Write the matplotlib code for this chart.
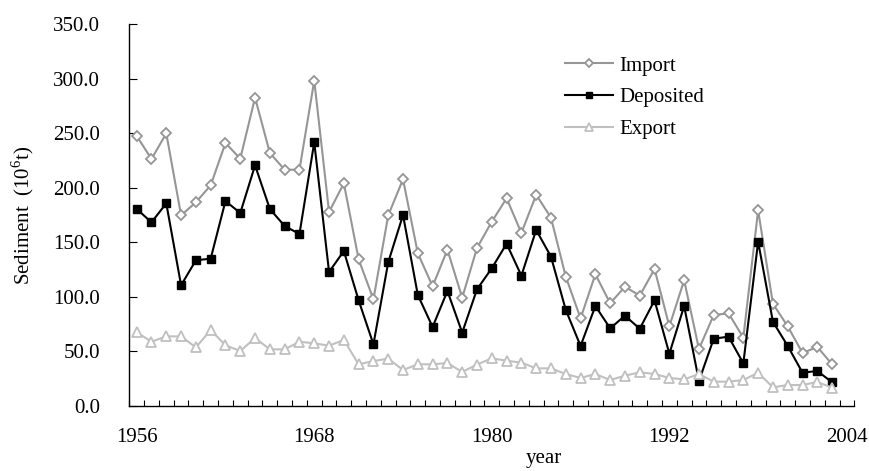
import numpy as np
import matplotlib
matplotlib.use("Agg")
import matplotlib.pyplot as plt
from matplotlib.ticker import FixedLocator, FormatStrFormatter

# --- data (10^6 t) ---
years = list(range(1956, 2004))

import_t = [247.4, 226.3, 249.8, 174.7, 186.6, 202.2, 241.0, 226.6, 282.5, 231.8,
            216.5, 216.5, 298.1, 177.8, 204.0, 134.4, 97.7, 174.7, 207.7, 139.9,
            109.7, 143.2, 99.2, 144.8, 168.9, 190.3, 158.5, 193.6, 172.5, 118.5,
            80.3, 120.7, 94.1, 109.3, 101.1, 125.5, 73.0, 115.2, 52.2, 83.4,
            84.9, 62.6, 179.3, 93.7, 73.0, 48.6, 54.1, 38.2]

deposited = [180.5, 168.3, 185.7, 110.6, 133.5, 135.0, 187.8, 176.8, 220.5, 180.5,
             164.9, 157.6, 241.6, 122.8, 142.0, 96.8, 56.5, 131.7, 175.0, 101.7,
             72.4, 105.4, 67.2, 106.9, 126.2, 148.7, 119.4, 161.3, 136.8, 88.0,
             55.0, 91.6, 71.2, 82.7, 70.8, 96.8, 47.9, 91.6, 22.9, 61.7,
             63.5, 39.1, 150.6, 77.2, 55.0, 30.5, 32.1, 21.7]

export_t = [67.5, 58.9, 63.8, 63.8, 53.7, 69.6, 55.6, 50.4, 62.3, 51.9,
            51.9, 58.9, 57.4, 55.3, 60.5, 38.2, 41.2, 43.4, 33.0, 38.2,
            38.2, 39.4, 31.2, 38.0, 43.7, 41.5, 39.7, 34.5, 34.5, 29.3,
            25.7, 29.3, 23.8, 27.8, 30.9, 29.3, 25.7, 24.4, 29.3, 22.3,
            22.3, 23.8, 30.5, 17.1, 19.2, 19.2, 22.0, 16.8]

xtick_years = [1956, 1968, 1980, 1992, 2004]
yticks = [0, 50, 100, 150, 200, 250, 300, 350]

plt.rcParams['font.family'] = ['Liberation Serif', 'DejaVu Serif']
plt.rcParams['mathtext.fontset'] = 'custom'
plt.rcParams['mathtext.rm'] = 'Liberation Serif'

IMP_C = '#969696'
EXP_C = '#c0c0c0'

fig = plt.figure(figsize=(8.69, 4.71), dpi=100)
ax = fig.add_axes([129.3 / 869, 1 - 406 / 471, 725 / 869, 382 / 471])

ax.plot(years, import_t, '-', color=IMP_C, lw=1.5, marker='D', ms=5.5,
        mfc='white', mec=IMP_C, mew=1.3, label='Import')
ax.plot(years, deposited, '-', color='black', lw=1.5, marker='s', ms=6,
        mfc='black', mec='black', label='Deposited')
ax.plot(years, export_t, '-', color=EXP_C, lw=1.5, marker='^', ms=7,
        mfc='white', mec=EXP_C, mew=1.3, label='Export')

ax.set_xlim(1955.5, 2004.5)
ax.set_ylim(0, 350)

# category axis: labels every 12 years, tick marks between categories
ax.xaxis.set_major_locator(FixedLocator(xtick_years))
ax.xaxis.set_minor_locator(FixedLocator(np.arange(1955.5, 2005, 1.0)))
ax.tick_params(axis='x', which='major', length=0, pad=16, labelsize=15)
ax.tick_params(axis='x', which='minor', direction='in', length=4.5, width=0.8)

ax.set_yticks(yticks)
ax.yaxis.set_major_formatter(FormatStrFormatter('%.1f'))
ax.tick_params(axis='y', direction='in', length=6, width=0.8, pad=21, labelsize=15)

for s in ['top', 'right']:
    ax.spines[s].set_visible(False)
for s in ['left', 'bottom']:
    ax.spines[s].set_linewidth(1.0)

fig.text(23 / 869, 1 - 215 / 471, 'Sediment  (10$^6$t)', rotation=90,
         ha='center', va='center', fontsize=15)
fig.text(544 / 869, 1 - 459 / 471, 'year', ha='center', va='center', fontsize=15)

leg = ax.legend(loc='upper left', bbox_to_anchor=(565 / 869, 1 - 56 / 471),
                bbox_transform=fig.transFigure, frameon=False, fontsize=15,
                handlelength=2.3, handletextpad=0.3, labelspacing=0.58,
                borderpad=0, borderaxespad=0, markerscale=0.75)

fig.savefig('out.png', dpi=100)
